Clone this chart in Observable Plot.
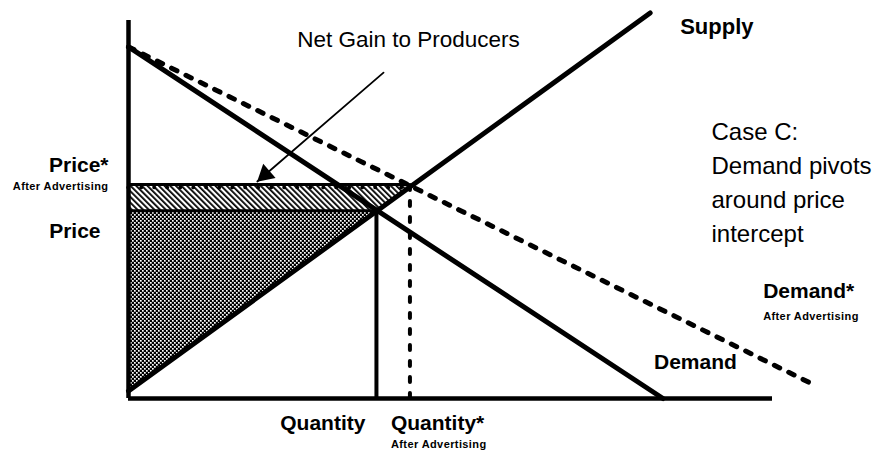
<!DOCTYPE html>
<html>
<head>
<meta charset="utf-8">
<script src="https://cdn.jsdelivr.net/npm/d3@7"></script>
<script src="https://cdn.jsdelivr.net/npm/@observablehq/plot@0.6"></script>
<style>
  html, body { margin: 0; padding: 0; background: #fff; }
  #chart { width: 887px; height: 453px; }
  .small-label text { letter-spacing: 0.4px; }
</style>
</head>
<body>
<div id="chart"></div>
<script>
// ---- Data (quantity 0–100, price 0–100) ----
const supplyQ = [0, 81];
const supplyP = [2, 102];
const demandQ = [0, 83];
const demandP = [93, 0];
const demandStarQ = [0, 106];
const demandStarP = [93, 4];
const priceLevels = [49.7, 56.6];      // Price, Price* (after advertising)
const quantityLevels = [38.5, 43.7];   // Quantity, Quantity* (after advertising)
const arrowQ = [39.6, 20];
const arrowP = [86.2, 57.4];
const priceLabels = ["Price", "Price*"];
const quantityLabels = ["Quantity", "Quantity*"];
const subLabel = "After Advertising";
const curveLabels = ["Supply", "Demand", "Demand*"];
const arrowLabel = "Net Gain to Producers";
const caseText = "Case C:\nDemand pivots\naround price\nintercept";

// ---- Tables built from the arrays ----
const toRows = (qs, ps) => qs.map((q, i) => ({q, p: ps[i]}));
const supply = toRows(supplyQ, supplyP);
const demand = toRows(demandQ, demandP);
const demandStar = toRows(demandStarQ, demandStarP);
const arrow = toRows(arrowQ, arrowP);
const supplyInv = p => supplyQ[0] + (p - supplyP[0]) * (supplyQ[1] - supplyQ[0]) / (supplyP[1] - supplyP[0]);
const grayArea = [supplyP[0], priceLevels[0]].map(p => ({p, q: supplyInv(p)}));
const hatchArea = [priceLevels[0], priceLevels[1]].map(p => ({p, q: supplyInv(p)}));

const bold = {fontWeight: "bold", fontSize: 21, fill: "black"};
const small = {fontWeight: "bold", fontSize: 11, fill: "black", className: "small-label"};

const svg = Plot.plot({
  width: 887,
  height: 453,
  marginLeft: 128,
  marginRight: 115,
  marginTop: 20,
  marginBottom: 55,
  x: {domain: [0, 100], axis: null},
  y: {domain: [0, 100], axis: null},
  style: {fontFamily: "'Liberation Sans', Arial, Helvetica, sans-serif", background: "white", color: "black", overflow: "visible"},
  marks: [
    Plot.areaX(grayArea, {y: "p", x1: 0, x2: "q", fill: "url(#stipple)"}),
    Plot.areaX(hatchArea, {y: "p", x1: 0, x2: "q", fill: "url(#hatch)"}),
    // axes
    Plot.ruleX([0], {y1: 0, y2: 100, strokeWidth: 4.5, stroke: "black"}),
    Plot.ruleY([0], {x1: 0, x2: 100, strokeWidth: 4.5, stroke: "black"}),
    // equilibrium guides
    Plot.ruleY([priceLevels[0]], {x1: 0, x2: quantityLevels[0], strokeWidth: 3, stroke: "black"}),
    Plot.ruleX([quantityLevels[0]], {y1: 0, y2: priceLevels[0], strokeWidth: 4, stroke: "black"}),
    Plot.ruleY([priceLevels[1]], {x1: 0, x2: quantityLevels[1], strokeWidth: 3, stroke: "black"}),
    Plot.ruleY([priceLevels[1]], {x1: 0, x2: quantityLevels[1], strokeWidth: 3.5, stroke: "black", strokeDasharray: "0.5,12.5", strokeLinecap: "round", dy: 3}),
    Plot.ruleX([quantityLevels[1]], {y1: 0, y2: priceLevels[1], strokeWidth: 4, stroke: "black", strokeDasharray: "5,11", strokeLinecap: "round"}),
    // curves
    Plot.line(demand, {x: "q", y: "p", strokeWidth: 5, stroke: "black", strokeLinecap: "round"}),
    Plot.line(demandStar, {x: "q", y: "p", strokeWidth: 5, stroke: "black", strokeDasharray: "6,10", strokeLinecap: "round"}),
    Plot.line(supply, {x: "q", y: "p", strokeWidth: 5, stroke: "black", strokeLinecap: "round"}),
    // pointer arrow
    Plot.line(arrow, {x: "q", y: "p", strokeWidth: 1.8, stroke: "black"}),
    Plot.dot(arrow.slice(1), {x: "q", y: "p", symbol: "triangle", r: 7, fill: "black", stroke: "none", rotate: 229, dx: 8, dy: -7}),
    Plot.text(arrow.slice(0, 1), {x: "q", y: "p", text: () => arrowLabel, textAnchor: "middle", lineAnchor: "bottom", dx: 25, dy: -26, fontSize: 22.5, fill: "black"}),
    // price labels
    Plot.text([priceLevels[0]], {x: 0, y: d => d, text: () => priceLabels[0], textAnchor: "end", lineAnchor: "bottom", dx: -28, dy: 27, ...bold}),
    Plot.text([priceLevels[1]], {x: 0, y: d => d, text: () => priceLabels[1], textAnchor: "end", lineAnchor: "bottom", dx: -20, dy: -13, ...bold}),
    Plot.text([priceLevels[1]], {x: 0, y: d => d, text: () => subLabel, textAnchor: "end", lineAnchor: "bottom", dx: -20, dy: 5, ...small}),
    // quantity labels
    Plot.text([quantityLevels[0]], {x: d => d, y: 0, text: () => quantityLabels[0], textAnchor: "end", lineAnchor: "bottom", dx: -11, dy: 31, ...bold}),
    Plot.text([quantityLevels[1]], {x: d => d, y: 0, text: () => quantityLabels[1], textAnchor: "start", lineAnchor: "bottom", dx: -19, dy: 31, ...bold}),
    Plot.text([quantityLevels[1]], {x: d => d, y: 0, text: () => subLabel, textAnchor: "start", lineAnchor: "bottom", dx: -19, dy: 49, ...small}),
    // curve labels
    Plot.text(supply.slice(-1), {x: "q", y: "p", text: () => curveLabels[0], textAnchor: "start", lineAnchor: "bottom", dx: 30, dy: 21, ...bold, fontSize: 22}),
    Plot.text(demand.slice(-1), {x: "q", y: "p", text: () => curveLabels[1], textAnchor: "start", lineAnchor: "bottom", dx: -9, dy: -30, ...bold}),
    Plot.text(demandStar.slice(-1), {x: "q", y: "p", text: () => curveLabels[2], textAnchor: "start", lineAnchor: "bottom", dx: -48, dy: -85, ...bold}),
    Plot.text(demandStar.slice(-1), {x: "q", y: "p", text: () => subLabel, textAnchor: "start", lineAnchor: "bottom", dx: -48, dy: -63, ...small}),
    // case annotation
    Plot.text([caseText], {frameAnchor: "top-right", text: d => d, textAnchor: "start", lineAnchor: "top", lineHeight: 1.42, dx: -61, dy: 95, fontSize: 24, fill: "black"})
  ]
});

// Fill patterns (stipple and diagonal hatch)
const NS = "http://www.w3.org/2000/svg";
const defs = document.createElementNS(NS, "defs");
function el(tag, attrs, parent) {
  const e = document.createElementNS(NS, tag);
  for (const k in attrs) e.setAttribute(k, attrs[k]);
  parent.appendChild(e);
  return e;
}
const stip = el("pattern", {id: "stipple", width: 4, height: 4, patternUnits: "userSpaceOnUse"}, defs);
el("rect", {x: 0, y: 0, width: 4, height: 4, fill: "black"}, stip);
el("rect", {x: 0, y: 0, width: 1.7, height: 1.7, fill: "white"}, stip);
el("rect", {x: 2, y: 2, width: 1.7, height: 1.7, fill: "white"}, stip);
const hatch = el("pattern", {id: "hatch", width: 4, height: 4, patternUnits: "userSpaceOnUse", patternTransform: "rotate(-45)"}, defs);
el("rect", {x: 0, y: 0, width: 4, height: 4, fill: "white"}, hatch);
el("rect", {x: 0, y: 0, width: 1.8, height: 4, fill: "black"}, hatch);
svg.insertBefore(defs, svg.firstChild);

document.getElementById("chart").appendChild(svg);
</script>
</body>
</html>
